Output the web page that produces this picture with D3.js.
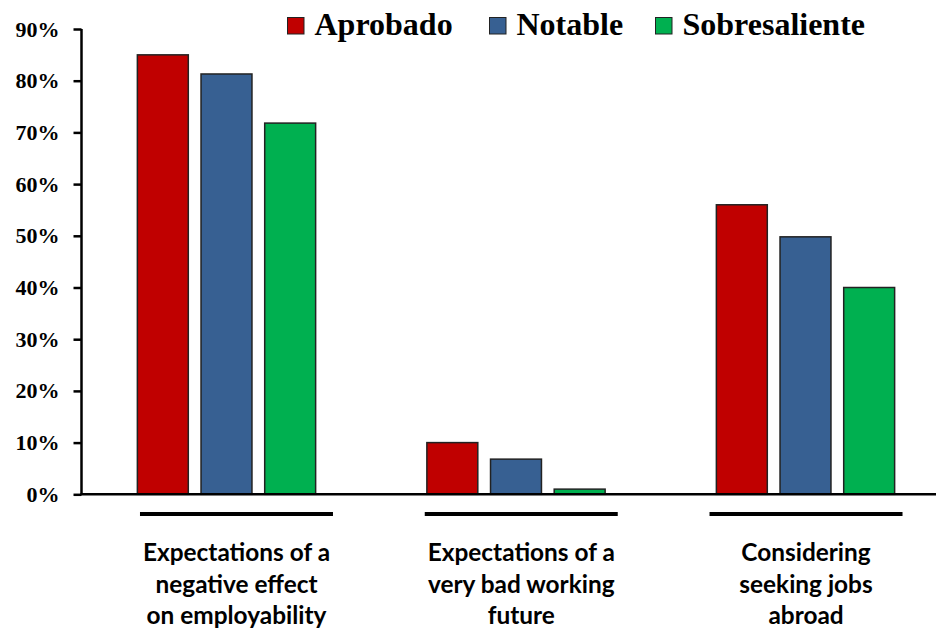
<!DOCTYPE html>
<html>
<head>
<meta charset="utf-8">
<script src="https://cdn.jsdelivr.net/npm/d3@7"></script>
<style>
  html, body { margin: 0; padding: 0; background: #fff; }
  svg { display: block; }
</style>
</head>
<body>
<svg id="chart" width="936" height="630"></svg>
<script>
// ---- data ----
const categories = [
  ["Expectations of a", "negative effect", "on employability"],
  ["Expectations of a", "very bad working", "future"],
  ["Considering", "seeking jobs", "abroad"]
];
const seriesNames = ["Aprobado", "Notable", "Sobresaliente"];
const aprobado = [85, 10, 56];
const notable = [81.3, 6.8, 49.8];
const sobresaliente = [71.8, 1, 40];
const yTicks = [0, 10, 20, 30, 40, 50, 60, 70, 80, 90];
const colors = ["#C00000", "#376092", "#00B050"];

const seriesValues = [aprobado, notable, sobresaliente];

const svg = d3.select("#chart");

// ---- scales ----
const y = d3.scaleLinear().domain([0, 90]).range([494.3, 29]);
const groupIdx = categories.map((d, i) => i);
const x0 = d3.scaleBand().domain(groupIdx).range([81.75, 950.25]).padding(0);
const x1 = d3.scaleBand().domain(seriesNames).range([0, 191]).paddingInner(0.2).paddingOuter(0.1);
const xLabel = d3.scaleBand().domain(groupIdx).range([94.1, 948.4]).padding(0);

// ---- bars ----
const groups = svg.append("g").selectAll("g")
  .data(groupIdx)
  .join("g")
  .attr("transform", i => `translate(${x0(i) + x0.bandwidth() / 2 - 95.5},0)`);

groups.selectAll("rect")
  .data(i => seriesNames.map((s, k) => ({ s, k, v: seriesValues[k][i] })))
  .join("rect")
  .attr("x", d => x1(d.s))
  .attr("width", x1.bandwidth())
  .attr("y", d => y(d.v))
  .attr("height", d => y(0) - y(d.v))
  .attr("fill", d => colors[d.k])
  .attr("stroke", "#222")
  .attr("stroke-width", 1.5);

// ---- y axis ----
const yAxis = d3.axisLeft(y).tickValues(yTicks).tickFormat(d => d + "%").tickSize(8).tickPadding(14);
const gy = svg.append("g").attr("transform", "translate(81.5,0)").call(yAxis);
gy.select(".domain").remove();
gy.append("line").attr("x1", 0).attr("x2", 0).attr("y1", y(90)).attr("y2", y(0))
  .attr("stroke", "#000").attr("stroke-width", 2.5);
gy.selectAll(".tick line").attr("stroke", "#000").attr("stroke-width", 2.5);
gy.selectAll(".tick text")
  .attr("fill", "#000")
  .style("font-family", "'Liberation Serif', 'Times New Roman', serif")
  .style("font-weight", "bold")
  .style("font-size", "22px");

// ---- x axis line ----
svg.append("line")
  .attr("x1", 80.5).attr("x2", 936)
  .attr("y1", y(0)).attr("y2", y(0))
  .attr("stroke", "#000").attr("stroke-width", 2.5);

// ---- category underlines and labels ----
const lab = svg.append("g").selectAll("g")
  .data(groupIdx)
  .join("g")
  .attr("transform", i => `translate(${xLabel(i) + xLabel.bandwidth() / 2},0)`);

lab.append("line")
  .attr("x1", -96.5).attr("x2", 96.5)
  .attr("y1", 514).attr("y2", 514)
  .attr("stroke", "#000").attr("stroke-width", 4);

lab.append("text")
  .attr("text-anchor", "middle")
  .style("font-family", "Lato, 'Open Sans', sans-serif")
  .style("font-weight", "bold")
  .style("font-size", "24.4px")
  .attr("fill", "#000")
  .selectAll("tspan")
  .data(i => categories[i])
  .join("tspan")
  .attr("x", 0)
  .attr("y", (d, j) => 561 + j * 31.5)
  .text(d => d);

// ---- legend ----
const legendX = [287.5, 489.5, 655.5];
const leg = svg.append("g").selectAll("g")
  .data(seriesNames)
  .join("g")
  .attr("transform", (d, k) => `translate(${legendX[k]},0)`);
leg.append("rect")
  .attr("x", 0).attr("y", 17.5).attr("width", 16.5).attr("height", 16.5)
  .attr("fill", (d, k) => colors[k])
  .attr("stroke", "#222").attr("stroke-width", 1);
leg.append("text")
  .attr("x", 27).attr("y", 35)
  .style("font-family", "'Liberation Serif', 'Times New Roman', serif")
  .style("font-weight", "bold")
  .style("font-size", "32px")
  .attr("fill", "#000")
  .text(d => d);
</script>
</body>
</html>
